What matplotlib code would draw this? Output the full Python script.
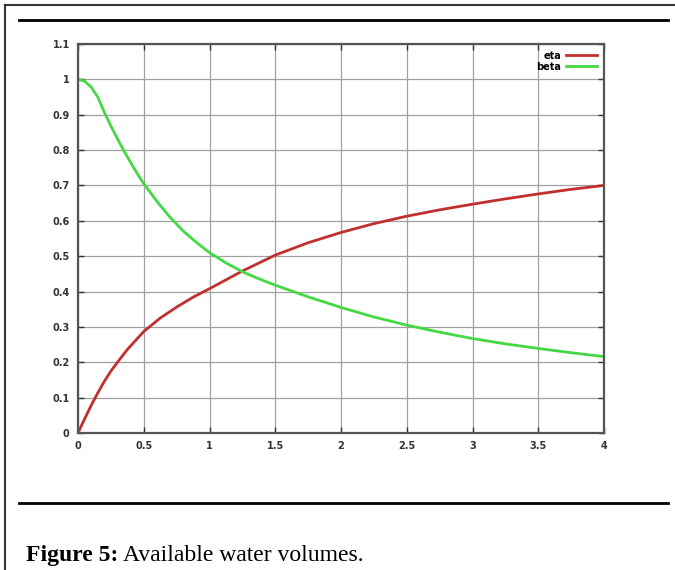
import matplotlib
matplotlib.use("Agg")
import matplotlib.pyplot as plt
from matplotlib.lines import Line2D

# values
x_eta = [0, 0.05, 0.1, 0.15, 0.2, 0.25, 0.3, 0.375, 0.5, 0.625, 0.75, 0.875,
         1.0, 1.25, 1.5, 1.75, 2.0, 2.25, 2.5, 2.75, 3.0, 3.25, 3.5, 3.75, 4.0]
eta = [0, 0.04, 0.078, 0.113, 0.146, 0.175, 0.2, 0.236, 0.287, 0.325, 0.356,
       0.384, 0.408, 0.458, 0.503, 0.538, 0.567, 0.592, 0.613, 0.631, 0.647,
       0.662, 0.676, 0.689, 0.70]

x_beta = [0, 0.05, 0.1, 0.15, 0.2, 0.25, 0.3, 0.35, 0.4, 0.45, 0.5, 0.6, 0.7,
          0.8, 0.9, 1.0, 1.125, 1.25, 1.375, 1.5, 1.75, 2.0, 2.25, 2.5, 2.75,
          3.0, 3.25, 3.5, 3.75, 4.0]
beta = [1.0, 0.995, 0.978, 0.95, 0.907, 0.868, 0.832, 0.797, 0.765, 0.734,
        0.705, 0.655, 0.61, 0.571, 0.539, 0.51, 0.481, 0.456, 0.436, 0.418,
        0.385, 0.355, 0.328, 0.305, 0.285, 0.267, 0.252, 0.239, 0.227, 0.216]

xticks = [0, 0.5, 1, 1.5, 2, 2.5, 3, 3.5, 4]
xtick_labels = ["0", "0.5", "1", "1.5", "2", "2.5", "3", "3.5", "4"]
yticks = [0, 0.1, 0.2, 0.3, 0.4, 0.5, 0.6, 0.7, 0.8, 0.9, 1, 1.1]
ytick_labels = ["0", "0.1", "0.2", "0.3", "0.4", "0.5", "0.6", "0.7",
                "0.8", "0.9", "1", "1.1"]

fig = plt.figure(figsize=(6.75, 5.7), dpi=100)
ax = fig.add_axes([0.1156, 0.2404, 0.8948 - 0.1156, 0.9228 - 0.2404])

ax.plot(x_eta, eta, color="#c0302e", lw=2, label="eta")
ax.plot(x_beta, beta, color="#44d944", lw=2, label="beta")

ax.set_xlim(0, 4)
ax.set_ylim(0, 1.1)
ax.set_xticks(xticks)
ax.set_xticklabels(xtick_labels)
ax.set_yticks(yticks)
ax.set_yticklabels(ytick_labels)
ax.grid(True, color="#a0a0a0", lw=0.9)
ax.tick_params(direction="in", length=4, width=1, top=True, right=True,
               labelsize=7, colors="#333333", pad=6)
for lab in ax.get_xticklabels() + ax.get_yticklabels():
    lab.set_fontweight("bold")
for s in ax.spines.values():
    s.set_color("#555555")
    s.set_linewidth(1.6)

leg = ax.legend(loc="upper right", frameon=False, markerfirst=False,
                handlelength=3.2, fontsize=7, borderaxespad=0.3,
                labelspacing=0.1, handletextpad=0.5)
for t in leg.get_texts():
    t.set_fontweight("bold")

# page decorations: border, rules and caption
fig.add_artist(Line2D([0.007, 0.007], [0, 0.992], color="#333333", lw=1.5))
fig.add_artist(Line2D([0.007, 1], [0.992, 0.992], color="#333333", lw=1.5))
fig.add_artist(Line2D([19 / 675, 668 / 675], [0.965, 0.965], color="black", lw=2))
fig.add_artist(Line2D([19 / 675, 668 / 675], [0.118, 0.118], color="black", lw=2))

cap1 = fig.text(0.0385, 0.0158, "Figure 5:", family="Liberation Serif",
                fontweight="bold", fontsize=17, va="baseline")
fig.canvas.draw()
bb = cap1.get_window_extent()
x2 = fig.transFigure.inverted().transform((bb.x1 + 5, 0))[0]
fig.text(x2, 0.0158, "Available water volumes.", family="Liberation Serif",
         fontsize=17, va="baseline")

fig.savefig("out.png", dpi=100)
